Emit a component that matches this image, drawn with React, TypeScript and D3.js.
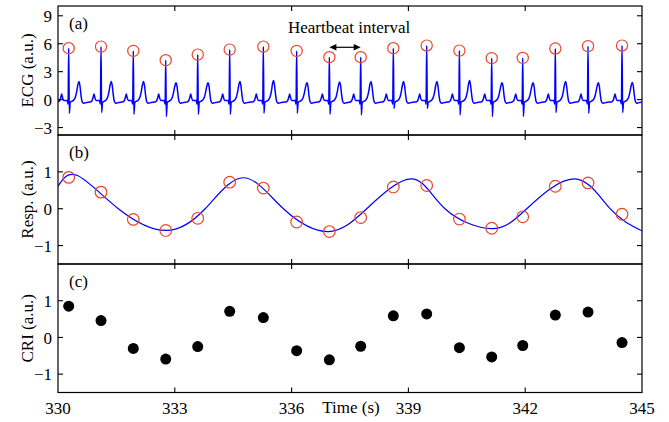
import React from "react";
import * as d3 from "d3";

// ---- data ----
const rPeakTimes = [330.275, 331.105, 331.934, 332.767, 333.589, 334.41, 335.274, 336.13, 336.97, 337.775, 338.613, 339.47, 340.31, 341.14, 341.937, 342.774, 343.614, 344.487];
const rPeakAmps = [5.52, 5.69, 5.23, 4.23, 4.83, 5.37, 5.69, 5.23, 4.55, 4.55, 5.52, 5.8, 5.26, 4.45, 4.48, 5.48, 5.74, 5.8];
const sWaveDepths = [-1.46, -1.39, -1.57, -1.82, -1.57, -1.57, -1.46, -1.46, -1.57, -1.64, -0.93, -0.93, -1.64, -1.82, -1.82, -1.39, -1.46, -1.39];
const tWaveAmps = [1.95, 1.95, 1.95, 1.8, 1.8, 1.95, 2.05, 1.8, 1.9, 1.95, 1.95, 1.95, 2.05, 1.8, 1.8, 1.95, 1.8, 1.85];
// one beat shape (seconds from R peak, a.u.); "R","S","T" are replaced per beat
const beatOffsets = [-0.27, -0.225, -0.2, -0.18, -0.16, -0.13, -0.04, -0.016, 0, 0.016, 0.04, 0.09, 0.13, 0.17, 0.205, 0.235, 0.262, 0.29, 0.315, 0.34, 0.375, 0.42, 0.5];
const beatValues: (number | string)[] = [-0.25, -0.05, 0.3, 0.6, 0.25, -0.1, -0.1, -0.5, "R", "S", -0.3, -0.15, -0.05, 0.25, 0.85, "T-", "T", 1.45, 0.5, -0.15, -0.4, -0.35, -0.28];

const respCurveTimes = [330, 330.5, 331.55, 332.77, 333.78, 334.76, 335.79, 336.94, 337.93, 339.08, 339.94, 341.14, 342.04, 343.26, 344.18, 345];
const respCurveValues = [0.61, 0.9, 0.0, -0.59, 0.0, 0.84, 0.0, -0.62, 0.0, 0.81, 0.0, -0.54, 0.0, 0.81, 0.0, -0.6];
const respAtBeats = [0.85, 0.45, -0.29, -0.59, -0.26, 0.72, 0.56, -0.36, -0.62, -0.24, 0.59, 0.63, -0.28, -0.53, -0.22, 0.61, 0.70, -0.15];
const criValues = [0.85, 0.46, -0.30, -0.59, -0.25, 0.71, 0.54, -0.36, -0.61, -0.24, 0.59, 0.64, -0.28, -0.53, -0.22, 0.61, 0.69, -0.14];

const xTicks = [330, 333, 336, 339, 342, 345];
const ecgTicks = [-3, 0, 3, 6, 9];
const unitTicks = [-1, 0, 1];

const W = 669, H = 422;
const left = 58, right = 642;
const panelTops = [6, 135, 264];
const panelBottoms = [135, 264, 392.5];
const FONT = "Liberation Serif, DejaVu Serif, serif";
const BLUE = "#0000ff";
const RED = "#e8462e";
const txt = { fontFamily: FONT, fontSize: "17px" };

const fmt = (v: number) => (v < 0 ? "\u2212" + Math.abs(v) : String(v));

export default function App() {
  const x = d3.scaleLinear().domain([330, 345]).range([left, right]);
  const yA = d3.scaleLinear().domain([-3.8, 10.05]).range([panelBottoms[0], panelTops[0]]);
  const yB = d3.scaleLinear().domain([-1.5, 2]).range([panelBottoms[1], panelTops[1]]);
  const yC = d3.scaleLinear().domain([-1.5, 2]).range([panelBottoms[2], panelTops[2]]);

  // build ECG trace from beat template
  const ecg: [number, number][] = [];
  rPeakTimes.forEach((t, i) => {
    beatOffsets.forEach((dt, j) => {
      const v = beatValues[j];
      let val: number;
      if (v === "R") val = rPeakAmps[i];
      else if (v === "S") val = sWaveDepths[i];
      else if (v === "T") val = tWaveAmps[i];
      else if (v === "T-") val = tWaveAmps[i] * 0.82;
      else val = v as number;
      ecg.push([t + dt, val]);
    });
  });
  const ecgLine = d3
    .line<[number, number]>()
    .x((d) => x(d[0]))
    .y((d) => yA(d[1]))
    .curve(d3.curveMonotoneX);
  const respLine = d3
    .line<number>()
    .x((_, i) => x(respCurveTimes[i]))
    .y((d) => yB(d))
    .curve(d3.curveNatural);

  const scales = [yA, yB, yC];
  const yTickSets = [ecgTicks, unitTicks, unitTicks];
  const yTitles = ["ECG (a.u.)", "Resp. (a.u.)", "CRI (a.u.)"];
  const panelLabels = ["(a)", "(b)", "(c)"];
  const tickLen = 5;

  const a1 = x(rPeakTimes[8]);
  const a2 = x(rPeakTimes[9]);
  const ay = 47.3;

  return (
    <svg
      width={W}
      height={H}
      style={{ position: "absolute", left: 0, top: 0, background: "#fff" }}
    >
      <defs>
        {panelTops.map((t, i) => (
          <clipPath id={`clip${i}`} key={i}>
            <rect x={left} y={t} width={right - left} height={panelBottoms[i] - t} />
          </clipPath>
        ))}
      </defs>

      {/* panel a: ECG */}
      <g clipPath="url(#clip0)">
        <path d={ecgLine(ecg) || ""} fill="none" stroke={BLUE} strokeWidth={1.5} strokeLinejoin="round" />
        {rPeakTimes.map((t, i) => (
          <circle key={i} cx={x(t)} cy={yA(rPeakAmps[i])} r={5.6} fill="none" stroke={RED} strokeWidth={1.2} />
        ))}
      </g>

      {/* panel b: respiration */}
      <g clipPath="url(#clip1)">
        <path d={respLine(respCurveValues) || ""} fill="none" stroke={BLUE} strokeWidth={1.2} />
        {rPeakTimes.map((t, i) => (
          <circle key={i} cx={x(t)} cy={yB(respAtBeats[i])} r={5.8} fill="none" stroke={RED} strokeWidth={1.2} />
        ))}
      </g>

      {/* panel c: CRI */}
      <g clipPath="url(#clip2)">
        {rPeakTimes.map((t, i) => (
          <circle key={i} cx={x(t)} cy={yC(criValues[i])} r={5.5} fill="#000" />
        ))}
      </g>

      {/* frames, ticks, labels */}
      {panelTops.map((top, p) => {
        const bottom = panelBottoms[p];
        const ys = scales[p];
        return (
          <g key={p}>
            <rect x={left} y={top} width={right - left} height={bottom - top} fill="none" stroke="#000" strokeWidth={1.2} />
            {xTicks.slice(1, -1).map((v) => (
              <g key={v}>
                <line x1={x(v)} x2={x(v)} y1={top} y2={top + tickLen} stroke="#000" strokeWidth={1.1} />
                <line x1={x(v)} x2={x(v)} y1={bottom} y2={bottom - tickLen} stroke="#000" strokeWidth={1.1} />
              </g>
            ))}
            {yTickSets[p].map((v) => (
              <g key={v}>
                <line x1={left} x2={left + tickLen} y1={ys(v)} y2={ys(v)} stroke="#000" strokeWidth={1.1} />
                <line x1={right} x2={right - tickLen} y1={ys(v)} y2={ys(v)} stroke="#000" strokeWidth={1.1} />
                <text x={left - 6} y={ys(v)} dy="0.36em" textAnchor="end" style={txt}>
                  {fmt(v)}
                </text>
              </g>
            ))}
            <text
              transform={`translate(33,${(top + bottom) / 2}) rotate(-90)`}
              textAnchor="middle"
              style={txt}
            >
              {yTitles[p]}
            </text>
            <text x={69} y={top + 22.5} style={txt}>
              {panelLabels[p]}
            </text>
          </g>
        );
      })}

      {xTicks.map((v) => (
        <text key={v} x={x(v)} y={413.5} textAnchor="middle" style={txt}>
          {v}
        </text>
      ))}
      <text x={351} y={413} textAnchor="middle" style={txt}>
        Time (s)
      </text>

      {/* annotation */}
      <text x={288} y={33} style={txt}>
        Heartbeat interval
      </text>
      <line x1={a1 + 5} x2={a2 - 5} y1={ay} y2={ay} stroke="#000" strokeWidth={1.2} />
      <path d={`M${a1},${ay} L${a1 + 7},${ay - 3.2} L${a1 + 7},${ay + 3.2} Z`} fill="#000" />
      <path d={`M${a2},${ay} L${a2 - 7},${ay - 3.2} L${a2 - 7},${ay + 3.2} Z`} fill="#000" />
    </svg>
  );
}
